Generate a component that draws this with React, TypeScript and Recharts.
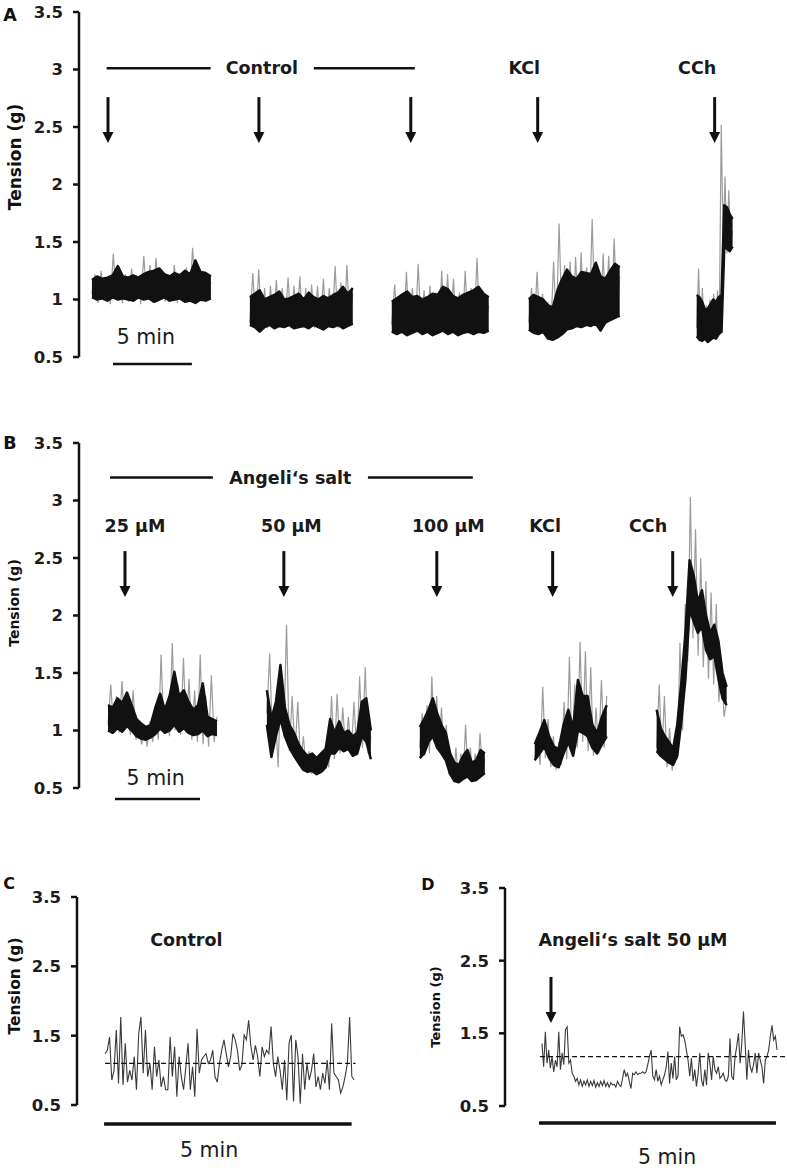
import { ComposedChart, Line, Area, XAxis, YAxis, ReferenceLine, ReferenceDot } from "recharts";

const FONT = "'DejaVu Sans', Verdana, sans-serif";
const INK = "#111111";
const GREY = "#9c9c9c";

// ---------- A: control, KCl, CCh (tension in g) ----------
// each recording: black band (lower / upper edge) and grey spikes around it
const aTicks = [0.5, 1, 1.5, 2, 2.5, 3, 3.5];
const aSpans = [[0.83, 8.46], [10.96, 17.56], [20.06, 26.28], [28.85, 34.68], [39.62, 41.92]];

const aControl1Hi = [1.17, 1.20, 1.18, 1.19, 1.21, 1.29, 1.20, 1.19, 1.21, 1.19, 1.22, 1.24, 1.25, 1.27, 1.22, 1.20, 1.23, 1.21, 1.25, 1.22, 1.34, 1.24, 1.23, 1.20];
const aControl1Lo = [1.02, 1.00, 1.01, 0.99, 1.02, 1.00, 1.01, 1.00, 0.99, 1.02, 1.00, 1.01, 0.98, 1.00, 1.02, 0.99, 1.00, 1.01, 0.98, 0.99, 0.97, 1.00, 0.99, 1.01];
const aControl1Spikes = [1.05, 1.22, 0.97, 1.25, 0.99, 1.20, 0.96, 1.40, 1.00, 1.24, 0.97, 1.22, 0.98, 1.27, 0.99, 1.20, 0.96, 1.38, 1.00, 1.30, 0.97, 1.36, 1.01, 1.25, 0.98, 1.22, 0.99, 1.30, 0.97, 1.23, 1.00, 1.28, 0.98, 1.45, 1.01, 1.26, 0.98, 1.24, 1.02, 1.15];
const aControl2Hi = [1.02, 1.05, 1.08, 1.00, 1.02, 1.04, 1.07, 1.00, 1.01, 1.03, 1.05, 1.00, 1.06, 1.02, 1.00, 1.03, 1.01, 1.04, 1.06, 1.11, 1.05, 1.10];
const aControl2Lo = [0.78, 0.76, 0.72, 0.76, 0.78, 0.75, 0.77, 0.76, 0.78, 0.75, 0.76, 0.77, 0.75, 0.78, 0.76, 0.74, 0.77, 0.76, 0.78, 0.75, 0.77, 0.79];
const aControl2Spikes = [0.80, 1.23, 0.76, 1.26, 0.78, 1.10, 0.75, 1.12, 0.77, 1.17, 0.76, 1.10, 0.78, 1.19, 0.75, 1.12, 0.77, 1.20, 0.76, 1.10, 0.78, 1.13, 0.75, 1.12, 0.77, 1.18, 0.76, 1.10, 0.78, 1.29, 0.75, 1.15, 0.77, 1.30, 0.78, 1.05];
const aControl3Hi = [0.98, 1.01, 1.04, 1.07, 1.02, 1.03, 1.00, 1.02, 1.05, 1.04, 1.11, 1.09, 1.03, 1.01, 1.04, 1.06, 1.08, 1.11, 1.05, 1.02];
const aControl3Lo = [0.72, 0.70, 0.72, 0.69, 0.71, 0.73, 0.70, 0.72, 0.69, 0.71, 0.73, 0.70, 0.72, 0.69, 0.71, 0.72, 0.70, 0.72, 0.71, 0.73];
const aControl3Spikes = [0.78, 1.13, 0.72, 1.05, 0.74, 1.24, 0.71, 1.10, 0.73, 1.31, 0.72, 1.08, 0.74, 1.12, 0.71, 1.06, 0.73, 1.25, 0.72, 1.22, 0.74, 1.18, 0.71, 1.06, 0.73, 1.25, 0.72, 1.10, 0.74, 1.36, 0.72, 1.08, 0.75, 0.95];
const aKclHi = [1.00, 1.04, 1.02, 1.00, 0.95, 0.93, 1.08, 1.18, 1.26, 1.20, 1.18, 1.24, 1.23, 1.22, 1.32, 1.20, 1.18, 1.25, 1.31, 1.28];
const aKclLo = [0.74, 0.71, 0.70, 0.72, 0.66, 0.65, 0.67, 0.70, 0.74, 0.75, 0.77, 0.76, 0.78, 0.77, 0.79, 0.73, 0.80, 0.82, 0.84, 0.86];
const aKclSpikes = [0.80, 1.10, 0.74, 1.24, 0.76, 1.05, 0.70, 0.98, 0.72, 1.33, 0.76, 1.66, 0.80, 1.30, 0.78, 1.33, 0.82, 1.37, 0.80, 1.41, 0.78, 1.28, 0.82, 1.70, 0.84, 1.30, 0.78, 1.40, 0.82, 1.38, 0.85, 1.53, 0.86, 1.20];
const aCchHi = [1.04, 1.02, 0.98, 0.91, 0.92, 0.96, 1.00, 0.98, 1.02, 1.04, 1.82, 1.80, 1.74, 1.70];
const aCchLo = [0.68, 0.65, 0.64, 0.66, 0.63, 0.65, 0.67, 0.66, 0.70, 0.72, 1.46, 1.44, 1.42, 1.46];
const aCchSpikes = [0.75, 1.27, 0.68, 1.10, 0.66, 0.95, 0.68, 1.00, 0.70, 1.05, 0.72, 1.08, 0.85, 2.52, 1.50, 2.07, 1.40, 1.95, 1.45, 1.60];

const aHi = [aControl1Hi, aControl2Hi, aControl3Hi, aKclHi, aCchHi];
const aLo = [aControl1Lo, aControl2Lo, aControl3Lo, aKclLo, aCchLo];
const aSpikes = [aControl1Spikes, aControl2Spikes, aControl3Spikes, aKclSpikes, aCchSpikes];

const aArrowAt = [1.86, 11.54, 21.28, 29.42, 40.77];
const aBracket = [[1.77, 8.44], [15.06, 21.54]];
const aLabels = [
  { text: "Control", t: 11.73 },
  { text: "KCl", t: 28.56 },
  { text: "CCh", t: 39.65 },
];

// ---------- B: Angeli's salt, KCl, CCh ----------
const bSpans = [[1.86, 8.85], [12.05, 18.72], [21.86, 26.03], [29.23, 33.85], [37.05, 41.54]];

const b25Hi = [1.22, 1.20, 1.28, 1.24, 1.33, 1.22, 1.10, 1.06, 1.03, 1.05, 1.20, 1.32, 1.18, 1.30, 1.51, 1.30, 1.35, 1.25, 1.18, 1.22, 1.41, 1.12, 1.10, 1.08];
const b25Lo = [1.00, 0.98, 1.02, 0.99, 1.04, 1.00, 0.95, 0.93, 0.92, 0.94, 0.97, 1.02, 0.98, 1.00, 1.05, 0.99, 1.02, 0.98, 0.96, 0.97, 1.00, 0.95, 0.97, 0.96];
const b25Spikes = [1.05, 1.40, 1.00, 1.30, 0.98, 1.43, 1.02, 1.28, 0.96, 1.35, 0.92, 1.05, 0.88, 1.02, 0.86, 1.08, 0.90, 1.15, 0.92, 1.66, 0.98, 1.25, 0.95, 1.76, 1.00, 1.40, 0.96, 1.63, 0.98, 1.45, 0.92, 1.35, 0.90, 1.66, 0.88, 1.30, 0.86, 1.48, 0.90, 1.12];
const b50Hi = [1.35, 1.10, 1.25, 1.57, 1.20, 1.05, 0.98, 0.88, 0.82, 0.78, 0.80, 0.76, 0.80, 0.84, 1.10, 0.98, 1.08, 0.98, 1.00, 0.95, 0.98, 1.25, 1.28, 1.00];
const b50Lo = [1.05, 0.77, 0.95, 1.10, 0.95, 0.85, 0.78, 0.72, 0.66, 0.64, 0.65, 0.62, 0.64, 0.68, 0.80, 0.80, 0.85, 0.82, 0.84, 0.78, 0.80, 0.95, 0.90, 0.75];
const b50Spikes = [1.15, 1.67, 0.90, 1.20, 0.68, 1.45, 0.95, 1.92, 0.82, 1.30, 0.80, 1.25, 0.72, 0.95, 0.64, 0.82, 0.62, 0.78, 0.63, 0.80, 0.64, 0.85, 0.68, 1.30, 0.75, 1.32, 0.80, 1.20, 0.82, 1.12, 0.80, 1.25, 0.78, 1.47, 0.85, 1.55, 0.80, 0.95];
const b100Hi = [1.03, 1.10, 1.18, 1.28, 1.15, 1.05, 0.98, 0.80, 0.72, 0.70, 0.78, 0.83, 0.72, 0.74, 0.83, 0.80];
const b100Lo = [0.76, 0.80, 0.90, 0.95, 0.85, 0.80, 0.74, 0.62, 0.56, 0.55, 0.58, 0.60, 0.56, 0.57, 0.60, 0.63];
const b100Spikes = [0.85, 1.15, 0.78, 1.22, 0.80, 1.47, 0.90, 1.30, 0.82, 1.20, 0.75, 1.05, 0.62, 0.78, 0.55, 0.85, 0.56, 0.80, 0.58, 1.05, 0.60, 0.85, 0.57, 0.80, 0.60, 0.98, 0.65, 0.75];
const bKclHi = [0.88, 0.98, 1.09, 0.95, 0.86, 0.84, 1.05, 1.18, 1.02, 1.44, 1.30, 1.30, 1.05, 0.98, 1.12, 1.22];
const bKclLo = [0.74, 0.80, 0.86, 0.76, 0.70, 0.68, 0.80, 0.90, 0.78, 1.00, 0.98, 0.95, 0.85, 0.80, 0.88, 0.95];
const bKclSpikes = [0.75, 0.95, 0.70, 1.38, 0.76, 1.10, 0.68, 0.95, 0.66, 0.90, 0.70, 1.25, 0.75, 1.64, 0.80, 1.40, 0.85, 1.77, 0.90, 1.69, 0.82, 1.55, 0.78, 1.20, 0.80, 1.44, 0.85, 1.30];
const bCchHi = [1.18, 1.02, 0.95, 0.90, 0.84, 1.05, 1.42, 1.85, 2.48, 2.35, 2.12, 2.22, 2.00, 1.85, 1.92, 1.78, 1.50, 1.38];
const bCchLo = [0.82, 0.78, 0.75, 0.72, 0.70, 0.78, 1.08, 1.45, 2.05, 1.95, 1.85, 1.90, 1.70, 1.62, 1.65, 1.45, 1.28, 1.22];
const bCchSpikes = [0.85, 1.40, 0.78, 1.30, 0.68, 1.02, 0.65, 0.95, 0.75, 1.76, 1.00, 2.10, 1.60, 3.03, 1.80, 2.75, 1.65, 2.50, 1.55, 2.30, 1.45, 2.20, 1.40, 2.10, 1.25, 1.60, 1.12, 1.25];

const bHi = [b25Hi, b50Hi, b100Hi, bKclHi, bCchHi];
const bLo = [b25Lo, b50Lo, b100Lo, bKclLo, bCchLo];
const bSpikes = [b25Spikes, b50Spikes, b100Spikes, bKclSpikes, bCchSpikes];

const bArrowAt = [2.95, 13.14, 22.95, 30.38, 38.08];
const bBracket = [[1.99, 8.59], [18.53, 25.26]];
const bLabels = [
  { text: "25 µM", t: 3.59 },
  { text: "50 µM", t: 13.62 },
  { text: "100 µM", t: 23.69 },
  { text: "KCl", t: 29.9 },
  { text: "CCh", t: 36.5 },
];

// ---------- C / D: 5 min detail ----------
const cdTicks = [0.5, 1.5, 2.5, 3.5];
const cSpan = [0.567, 5.6];
const cControl = [1.24, 1.29, 1.48, 0.86, 1.00, 1.58, 0.81, 1.77, 0.79, 1.39, 0.83, 1.00, 0.86, 1.20, 0.72, 1.53, 1.77, 0.96, 1.58, 0.91, 1.10, 0.72, 1.34, 0.91, 1.15, 0.76, 0.91, 0.72, 0.72, 1.48, 0.91, 1.34, 0.62, 1.20, 0.91, 0.72, 1.05, 1.39, 0.72, 1.05, 0.62, 1.60, 0.96, 1.15, 1.20, 1.24, 1.10, 1.15, 1.29, 0.91, 0.83, 1.10, 1.29, 1.44, 1.24, 1.05, 1.20, 1.53, 1.44, 1.29, 1.00, 1.08, 1.51, 1.44, 1.72, 1.34, 1.15, 1.36, 1.20, 0.91, 1.34, 1.20, 1.29, 1.24, 1.63, 1.10, 0.91, 1.20, 1.00, 0.72, 1.15, 0.57, 1.39, 1.51, 0.55, 1.44, 1.20, 0.52, 1.24, 0.72, 1.10, 0.86, 1.00, 1.24, 0.76, 0.91, 0.72, 0.96, 0.81, 1.15, 0.72, 1.68, 0.96, 0.91, 0.86, 0.67, 0.76, 0.91, 1.10, 1.77, 0.91, 0.86];
const cBaseline = 1.1;

const dSpan = [0.78, 5.74];
const dAngeli50 = [1.36, 1.04, 1.52, 1.09, 1.27, 1.02, 1.18, 0.97, 1.13, 1.04, 1.52, 1.00, 1.23, 1.07, 1.55, 1.59, 1.09, 1.13, 0.95, 0.91,
  0.84, 0.88, 0.79, 0.86, 0.77, 0.84, 0.79, 0.86, 0.77, 0.84, 0.78, 0.85, 0.76, 0.82, 0.77, 0.84, 0.78, 0.85, 0.77, 0.82,
  0.76, 0.82, 0.79, 0.80, 0.76, 0.84, 0.79, 0.77, 0.88, 1.00, 0.91, 0.95, 0.84, 0.74, 0.95, 0.93, 0.97, 0.93, 0.95, 0.95,
  0.97, 0.95, 0.97, 1.07, 1.18, 1.27, 0.91, 0.86, 1.00, 0.84, 0.91, 0.79, 0.86, 0.93, 1.04, 1.25, 0.81, 1.09, 0.88, 1.18,
  0.86, 0.91, 1.59, 1.46, 1.48, 1.41, 1.27, 1.13, 0.91, 1.16, 0.84, 1.00, 0.77, 0.95, 1.23, 0.86, 0.77, 1.00, 0.79, 1.23,
  1.09, 0.86, 1.18, 1.00, 0.95, 1.04, 0.88, 0.91, 0.95, 0.86, 0.84, 0.91, 1.43, 0.91, 0.86, 1.18, 1.32, 1.50, 1.09, 1.36,
  1.80, 1.36, 0.86, 1.27, 1.04, 0.97, 1.07, 1.23, 0.95, 1.23, 1.13, 1.04, 0.81, 1.13, 1.18, 1.27, 1.46, 1.61, 1.41, 1.46, 1.27];
const dBaseline = 1.18;

// samples are evenly spaced across each recording's time span
function rows(span: number[], values: number[]) {
  const [from, to] = span;
  return values.map((v, i) => ({ t: from + ((to - from) * i) / (values.length - 1), v }));
}

function bandRows(span: number[], lo: number[], hi: number[]) {
  const [from, to] = span;
  return lo.map((l, i) => ({ t: from + ((to - from) * i) / (lo.length - 1), range: [l, hi[i]] }));
}

const yAxisProps = (ticks: number[], width: number) => ({
  type: "number" as const,
  domain: [0.5, 3.5],
  ticks,
  interval: 0,
  width,
  allowDataOverflow: true,
  axisLine: { stroke: INK, strokeWidth: 2.5 },
  tickLine: { stroke: INK, strokeWidth: 2.5 },
  tickSize: 6,
  tickMargin: 10,
  tick: { fill: "#1c1c1c", fontSize: 16.5, fontWeight: 700, fontFamily: FONT },
});

const textShape = (text: string, size: number, weight: number) => (p: any) => (
  <text x={p.cx} y={p.cy} textAnchor="middle" dominantBaseline="central" fontFamily={FONT}
    fontSize={size} fontWeight={weight} fill="#1a1a1a">{text}</text>
);

const arrowShape = (len: number) => (p: any) => (
  <g>
    <line x1={p.cx} y1={p.cy - len} x2={p.cx} y2={p.cy - 9} stroke={INK} strokeWidth={3} />
    <polygon points={`${p.cx - 5.5},${p.cy - 11} ${p.cx + 5.5},${p.cy - 11} ${p.cx},${p.cy}`} fill={INK} />
  </g>
);

const bar = (from: number, to: number, y: number, w: number, key: string) => (
  <ReferenceLine key={key} segment={[{ x: from, y }, { x: to, y }]} stroke={INK} strokeWidth={w} ifOverflow="visible" />
);

const label = (text: string, t: number, y: number, size: number, weight: number, key: string) => (
  <ReferenceDot key={key} x={t} y={y} r={0} ifOverflow="visible" shape={textShape(text, size, weight)} />
);

const arrow = (t: number, tip: number, key: string) => (
  <ReferenceDot key={key} x={t} y={tip} r={0} ifOverflow="visible" shape={arrowShape(46)} />
);

// grey spikes are unfilled areas so that they sit beneath the black bands
function traces(spans: number[][], lo: number[][], hi: number[][], spikes: number[][]) {
  return [
    ...spikes.map((s, i) => (
      <Area key={"g" + i} data={rows(spans[i], s)} dataKey="v" type="linear" stroke={GREY}
        strokeWidth={1.2} fill="none" fillOpacity={0} dot={false} activeDot={false} isAnimationActive={false} />
    )),
    ...lo.map((l, i) => (
      <Area key={"k" + i} data={bandRows(spans[i], l, hi[i])} dataKey="range" type="linear"
        fill={INK} fillOpacity={1} stroke={INK} strokeWidth={2.5} strokeLinejoin="round"
        dot={false} activeDot={false} isAnimationActive={false} />
    )),
  ];
}

export default function App() {
  return (
    <div style={{ position: "absolute", left: 0, top: 0, width: 787, height: 1170, background: "#fff" }}>
      <div style={{ position: "absolute", left: 0, top: 0 }}>
        <ComposedChart width={787} height={380} margin={{ top: 12, right: 22, bottom: 23, left: 0 }}>
          <XAxis type="number" dataKey="t" domain={[0, 44]} hide allowDataOverflow />
          <YAxis {...yAxisProps(aTicks, 79)} />
          {traces(aSpans, aLo, aHi, aSpikes)}
          {aBracket.map((b, i) => bar(b[0], b[1], 3.01, 2.5, "ab" + i))}
          {aLabels.map((l, i) => label(l.text, l.t, 3.01, 17.5, 700, "al" + i))}
          {aArrowAt.map((t, i) => arrow(t, 2.36, "aa" + i))}
          {bar(2.18, 7.24, 0.44, 2.5, "asb")}
          {label("5 min", 4.29, 0.674, 20.5, 400, "ast")}
        </ComposedChart>
      </div>

      <div style={{ position: "absolute", left: 0, top: 431 }}>
        <ComposedChart width={787} height={380} margin={{ top: 12, right: 22, bottom: 23, left: 0 }}>
          <XAxis type="number" dataKey="t" domain={[0, 44]} hide allowDataOverflow />
          <YAxis {...yAxisProps(aTicks, 79)} />
          {traces(bSpans, bLo, bHi, bSpikes)}
          {bBracket.map((b, i) => bar(b[0], b[1], 3.2, 2.5, "bb" + i))}
          {label("Angeli‘s salt", 13.56, 3.2, 17.5, 700, "bas")}
          {bLabels.map((l, i) => label(l.text, l.t, 2.78, 17.5, 700, "bl" + i))}
          {bArrowAt.map((t, i) => arrow(t, 2.16, "ba" + i))}
          {bar(2.31, 7.76, 0.404, 2.5, "bsb")}
          {label("5 min", 4.92, 0.587, 20.5, 400, "bst")}
        </ComposedChart>
      </div>

      <div style={{ position: "absolute", left: 0, top: 885 }}>
        <ComposedChart width={364} height={285} margin={{ top: 12, right: 0, bottom: 65, left: 0 }}>
          <XAxis type="number" dataKey="t" domain={[0, 5.8]} hide allowDataOverflow />
          <YAxis {...yAxisProps(cdTicks, 77)} />
          <Line data={rows(cSpan, cControl)} dataKey="v" type="linear" stroke="#3a3a3a" strokeWidth={1.1}
            dot={false} activeDot={false} isAnimationActive={false} />
          <ReferenceLine segment={[{ x: 0.567, y: cBaseline }, { x: 5.63, y: cBaseline }]} stroke={INK}
            strokeWidth={1.3} strokeDasharray="5 3" ifOverflow="visible" />
          {label("Control", 2.21, 2.88, 17.5, 700, "cl")}
          {bar(0.547, 5.55, 0.226, 3.5, "csb")}
          {label("5 min", 2.67, -0.149, 20.5, 400, "cst")}
        </ComposedChart>
      </div>

      <div style={{ position: "absolute", left: 400, top: 876 }}>
        <ComposedChart width={387} height={294} margin={{ top: 12, right: 0, bottom: 64, left: 0 }}>
          <XAxis type="number" dataKey="t" domain={[0, 5.95]} hide allowDataOverflow />
          <YAxis {...yAxisProps(cdTicks, 105)} />
          <Line data={rows(dSpan, dAngeli50)} dataKey="v" type="linear" stroke="#3a3a3a" strokeWidth={1.1}
            dot={false} activeDot={false} isAnimationActive={false} />
          <ReferenceLine segment={[{ x: 0.74, y: dBaseline }, { x: 5.93, y: dBaseline }]} stroke={INK}
            strokeWidth={1.3} strokeDasharray="5 3" ifOverflow="visible" />
          {label("Angeli‘s salt 50 µM", 2.7, 2.785, 17.5, 700, "dl")}
          {arrow(0.97, 1.643, "da")}
          {bar(0.717, 5.717, 0.266, 3.5, "dsb")}
          {label("5 min", 3.42, -0.2, 20.5, 400, "dst")}
        </ComposedChart>
      </div>

      <svg width={787} height={1170} style={{ position: "absolute", left: 0, top: 0, pointerEvents: "none" }}>
        <g fontFamily={FONT} fontWeight={700} fill="#111" textAnchor="middle" dominantBaseline="central">
          <text x={10} y={15} fontSize={17.5}>A</text>
          <text x={10} y={443} fontSize={17.5}>B</text>
          <text x={9} y={883} fontSize={16}>C</text>
          <text x={428} y={884} fontSize={16}>D</text>
          <text x={15} y={157} fontSize={17} transform="rotate(-90 15 157)">Tension (g)</text>
          <text x={14} y={603} fontSize={14} transform="rotate(-90 14 603)">Tension (g)</text>
          <text x={15} y={986} fontSize={15.5} transform="rotate(-90 15 986)">Tension (g)</text>
          <text x={435} y={1007} fontSize={13} transform="rotate(-90 435 1007)">Tension (g)</text>
        </g>
      </svg>
    </div>
  );
}
